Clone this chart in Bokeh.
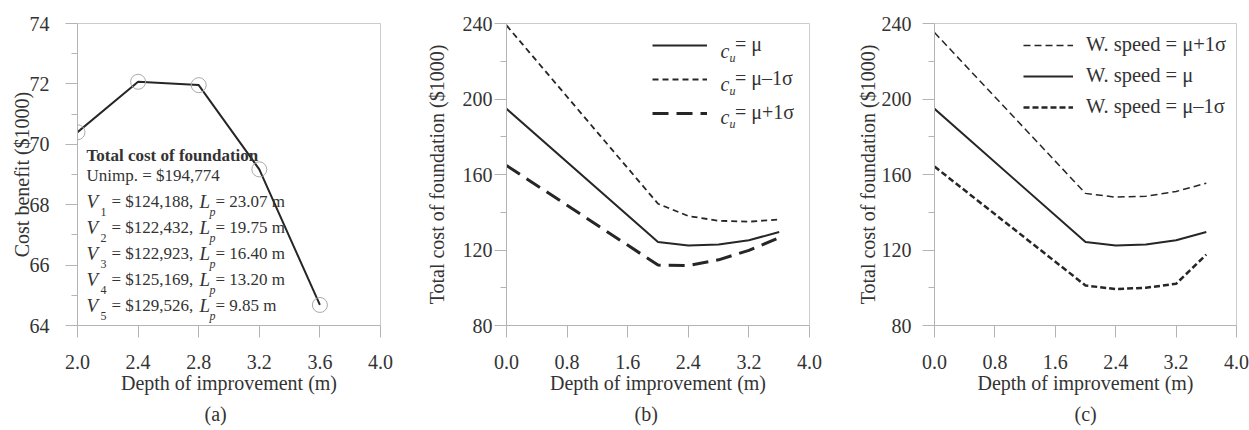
from bokeh.plotting import figure
from bokeh.models import Range1d, FixedTicker, NumeralTickFormatter, Label, Legend, LegendItem, Title
from bokeh.layouts import row
from bokeh.embed import file_html
from bokeh.resources import INLINE

# ---------------- data ----------------
depth_a = [2.0, 2.4, 2.8, 3.2, 3.6]
cost_benefit = [70.4, 72.07, 71.96, 69.17, 64.68]

depth_bc = [0.0, 2.0, 2.4, 2.8, 3.2, 3.6]
cost_cu_mean = [194.8, 124.2, 122.4, 122.9, 125.2, 129.5]
cost_cu_minus = [239.0, 144.5, 138.0, 135.5, 135.0, 136.2]
cost_cu_plus = [164.8, 112.0, 111.8, 114.8, 119.8, 126.5]

cost_ws_plus = [235.2, 150.0, 148.0, 148.5, 151.0, 155.4]
cost_ws_mean = [194.8, 124.2, 122.4, 122.9, 125.2, 129.5]
cost_ws_minus = [164.2, 101.2, 99.3, 100.0, 102.1, 117.6]

xticks_a = [2.0, 2.4, 2.8, 3.2, 3.6, 4.0]
yticks_a = [64, 66, 68, 70, 72, 74]
yminor_a = [65, 67, 69, 71, 73]
xticks_bc = [0.0, 0.8, 1.6, 2.4, 3.2, 4.0]
yticks_bc = [80, 120, 160, 200, 240]
yminor_bc = [100, 140, 180, 220]

summary_lines = [
    ("1", "$124,188,", "23.07 m"),
    ("2", "$122,432,", "19.75 m"),
    ("3", "$122,923,", "16.40 m"),
    ("4", "$125,169,", "13.20 m"),
    ("5", "$129,526,", "9.85 m"),
]

FONT = "Liberation Serif"
TXT = "#333333"
AX = "#b4b4b4"
LN = "#262626"


def make_fig(w, left, right, top, xr, yr, xt, yt, ym, ylab, ytick_so, ylab_so, caption, cap_off):
    p = figure(width=w, height=430, output_backend="svg", toolbar_location=None,
               x_range=Range1d(*xr), y_range=Range1d(*yr),
               min_border_left=left, min_border_right=right,
               min_border_top=top, min_border_bottom=105)
    p.xgrid.visible = False
    p.ygrid.visible = False
    p.outline_line_color = "#cccccc"
    p.background_fill_color = "white"
    p.border_fill_color = "white"
    p.xaxis.ticker = FixedTicker(ticks=xt)
    p.yaxis.ticker = FixedTicker(ticks=yt, minor_ticks=ym)
    p.xaxis.formatter = NumeralTickFormatter(format="0.0")
    p.yaxis.formatter = NumeralTickFormatter(format="0")
    for ax in (p.xaxis[0], p.yaxis[0]):
        ax.axis_line_color = AX
        ax.major_tick_line_color = AX
        ax.minor_tick_line_color = AX
        ax.major_tick_out = 12
        ax.major_tick_in = 0
        ax.major_label_text_font = FONT
        ax.major_label_text_font_size = "20px"
        ax.major_label_text_color = TXT
        ax.axis_label_text_font = FONT
        ax.axis_label_text_font_size = "20px"
        ax.axis_label_text_font_style = "normal"
        ax.axis_label_text_color = TXT
    p.xaxis.minor_tick_out = 0
    p.xaxis.minor_tick_in = 0
    p.yaxis.minor_tick_out = 6
    p.yaxis.minor_tick_in = 0
    p.xaxis.axis_label = "Depth of improvement (m)"
    p.xaxis.major_label_standoff = 17
    p.xaxis.axis_label_standoff = 0
    p.yaxis.axis_label = ylab
    p.yaxis.major_label_standoff = ytick_so
    p.yaxis.axis_label_standoff = ylab_so
    p.add_layout(Title(text=caption, align="left", offset=cap_off, standoff=9,
                       text_font=FONT, text_font_size="20px", text_font_style="normal",
                       text_color=TXT), "below")
    return p


def txt(p, x, y, text, size=17, style="normal", baseline="alphabetic", align="left"):
    p.add_layout(Label(x=x, y=y, x_units="screen", y_units="screen", text=text,
                       text_font=FONT, text_font_size=f"{size}px", text_font_style=style,
                       text_color=TXT, text_baseline=baseline, text_align=align))


# ---------------- panel (a) ----------------
FL_A, FB = 77, 325
pa = make_fig(416, 77, 36, 20, (2.0, 4.0), (64, 74), xticks_a, yticks_a, yminor_a,
              "Cost benefit ($1000)", 16, -6, "(a)", 127)
pa.line(depth_a, cost_benefit, line_color=LN, line_width=2)
pa.scatter(depth_a, cost_benefit, marker="circle", size=15, fill_alpha=0,
           line_color="#aaaaaa", line_width=1)

x0 = 86 - FL_A
txt(pa, x0, FB - 155, "Total cost of foundation", style="bold")
txt(pa, x0, FB - 175, "Unimp. = $194,774")
for k, (sub, val, lp) in enumerate(summary_lines):
    base = 201 + 26 * k
    txt(pa, x0, FB - base, "V", size=19, style="italic")
    txt(pa, x0 + 14, FB - (base + 10), sub, size=12)
    txt(pa, x0 + 25, FB - base, "= " + val)
    txt(pa, x0 + 113, FB - base, "L", size=19, style="italic")
    txt(pa, x0 + 123, FB - (base + 10), "p", size=12, style="italic")
    txt(pa, x0 + 129, FB - base, "= " + lp)

# ---------------- panel (b) ----------------
FL_B = 506
pb = make_fig(416, 90, 23, 20, (0.0, 4.0), (80, 240), xticks_bc, yticks_bc, yminor_bc,
              "Total cost of foundation ($1000)", 2, 12, "(b)", 128)
rb1 = pb.line(depth_bc, cost_cu_mean, line_color=LN, line_width=2)
rb2 = pb.line(depth_bc, cost_cu_minus, line_color=LN, line_width=1.8, line_dash="6 4")
rb3 = pb.line(depth_bc, cost_cu_plus, line_color=LN, line_width=3, line_dash="16 8")
leg_b = Legend(items=[LegendItem(label="= μ", renderers=[rb1]),
                      LegendItem(label="= μ–1σ", renderers=[rb2]),
                      LegendItem(label="= μ+1σ", renderers=[rb3])],
               location=(146, 201), padding=0, margin=0, spacing=11,
               glyph_width=55, glyph_height=22, label_height=22, label_standoff=28,
               label_text_font=FONT, label_text_font_size="20px", label_text_color=TXT,
               border_line_alpha=0, background_fill_alpha=0)
pb.add_layout(leg_b)
for k in range(3):
    rc = 47 + 33 * k
    txt(pb, 720 - FL_B, FB - (rc + 3), "c", size=20, style="italic")
    txt(pb, 729 - FL_B, FB - (rc + 10), "u", size=12, style="italic")

# ---------------- panel (c) ----------------
pc = make_fig(417, 102, 13, 23, (0.0, 4.0), (80, 240), xticks_bc, yticks_bc, yminor_bc,
              "Total cost of foundation ($1000)", 11, 0, "(c)", 140)
rc1 = pc.line(depth_bc, cost_ws_plus, line_color=LN, line_width=1.5, line_dash="7 4")
rc2 = pc.line(depth_bc, cost_ws_mean, line_color=LN, line_width=2)
rc3 = pc.line(depth_bc, cost_ws_minus, line_color=LN, line_width=2.5, line_dash="6 3")
leg_c = Legend(items=[LegendItem(label="W. speed = μ+1σ", renderers=[rc1]),
                      LegendItem(label="W. speed = μ", renderers=[rc2]),
                      LegendItem(label="W. speed = μ–1σ", renderers=[rc3])],
               location=(89, 207), padding=0, margin=0, spacing=8,
               glyph_width=50, glyph_height=22, label_height=22, label_standoff=13,
               label_text_font=FONT, label_text_font_size="20.5px", label_text_color=TXT,
               border_line_alpha=0, background_fill_alpha=0)
pc.add_layout(leg_c)

layout = row(pa, pb, pc)
open("out.html", "w").write(file_html(layout, INLINE))
